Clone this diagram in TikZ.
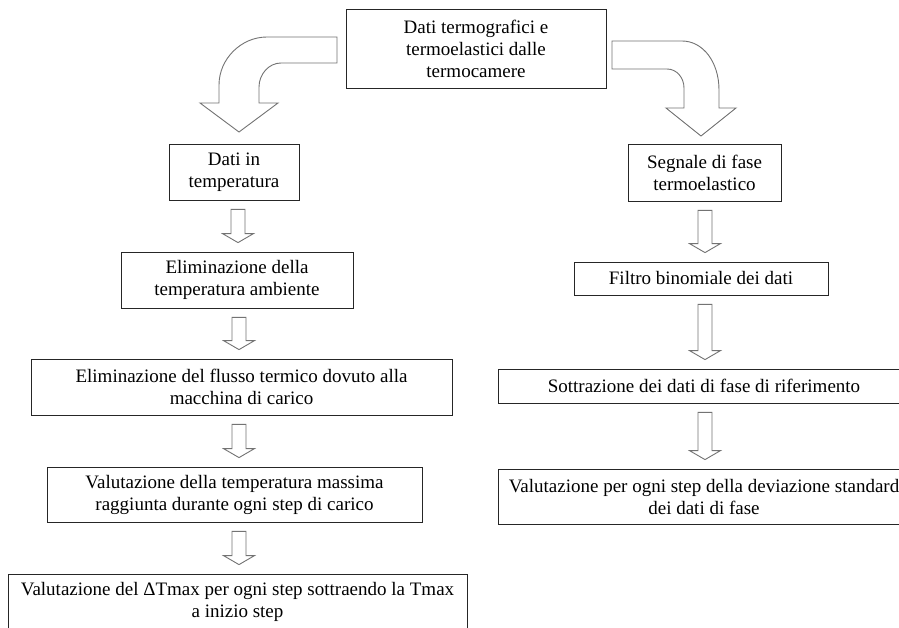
\documentclass[tikz,border=0pt]{standalone}
\usepackage{fontspec}
\setmainfont{Liberation Serif}
\usetikzlibrary{calc}

\tikzset{
 box/.style={draw=black!85, line width=0.8pt, align=center, inner sep=0pt,
   font=\fontsize{19}{22}\selectfont},
 hollow/.style={draw=black!55, line width=0.9pt, fill=white, line join=miter}
}
\newcommand{\hollowdown}[3]{%
 \draw[hollow] let \p1=(#2.south), \p2=(#3.north) in
  (#1pt-7pt,\y1-9pt) -- (#1pt+7pt,\y1-9pt) -- (#1pt+7pt,\y2+18pt)
  -- (#1pt+15.5pt,\y2+18pt) -- (#1pt,\y2+9pt) -- (#1pt-15.5pt,\y2+18pt)
  -- (#1pt-7pt,\y2+18pt) -- cycle;}

\begin{document}
\begin{tikzpicture}[x=1pt,y=-1pt]
\useasboundingbox (0,0) rectangle (899,628);

\node[box, minimum width=260pt, minimum height=79pt] (src) at (476,48.5) {Dati termografici e\\termoelastici dalle\\termocamere};

\node[box, minimum width=130pt, minimum height=56pt] (temp) at (234,172) {Dati in\\temperatura};
\node[box, minimum width=232pt, minimum height=56pt] (amb) at (237,280) {Eliminazione della\\temperatura ambiente};
\node[box, minimum width=421pt, minimum height=56pt] (flux) at (241.5,387) {Eliminazione del flusso termico dovuto alla\\macchina di carico};
\node[box, minimum width=375pt, minimum height=55pt] (tmax) at (234.5,494.5) {Valutazione della temperatura massima\\raggiunta durante ogni step di carico};
\node[box, minimum width=459pt, minimum height=56pt] (dtmax) at (237.5,602) {Valutazione del ΔTmax per ogni step sottraendo la Tmax\\a inizio step};

\node[box, minimum width=153pt, minimum height=57pt] (fase) at (704.5,172.5) {Segnale di fase\\termoelastico};
\node[box, minimum width=254pt, minimum height=33pt] (filt) at (701,278.5) {Filtro binomiale dei dati};
\node[box, minimum width=412pt, minimum height=34pt] (rif) at (704,386) {Sottrazione dei dati di fase di riferimento};
\node[box, minimum width=412pt, minimum height=55pt] (dev) at (704,496.5) {Valutazione per ogni step della deviazione standard\\dei dati di fase};

\draw[hollow] (337,37) -- (267,37) .. controls (241,37) and (219,59) .. (219,85)
 -- (219,103) -- (200,103) -- (239,132) -- (278,103) -- (259,103) -- (259,87)
 .. controls (259,74) and (269,63) .. (281,63) -- (337,63) -- cycle;
\draw[hollow] (612,41) -- (682,41) .. controls (703,41) and (719,62) .. (719,90)
 -- (719,108) -- (736,108) -- (701,136) -- (666,108) -- (684,108) -- (684,88)
 .. controls (684,78) and (677,69) .. (667,69) -- (612,69) -- cycle;

\hollowdown{238}{temp}{amb}
\hollowdown{239}{amb}{flux}
\hollowdown{239}{flux}{tmax}
\hollowdown{239}{tmax}{dtmax}
\hollowdown{705}{fase}{filt}
\hollowdown{705}{filt}{rif}
\hollowdown{705}{rif}{dev}
\end{tikzpicture}
\end{document}
